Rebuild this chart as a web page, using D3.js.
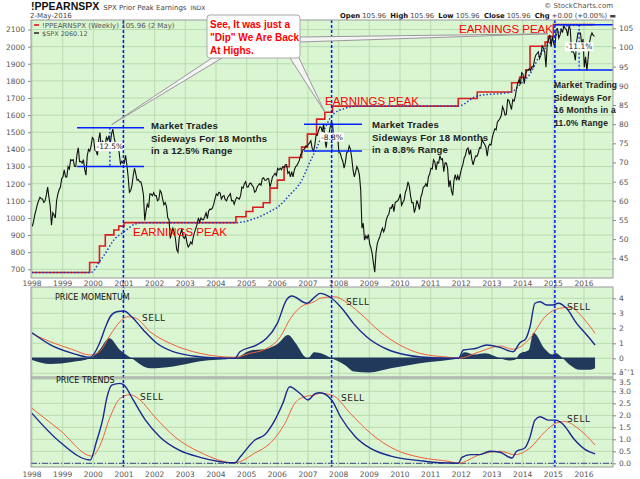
<html>
<head>
<script src="https://d3js.org/d3.v7.min.js"></script>
<style>
body { margin: 0; background: #fff; }
text { font-family: 'DejaVu Sans', sans-serif; }
.tick text { font-size: 7.5px; fill: #555; }
.tick line { stroke: #888; }
.note { font-family: 'Liberation Sans', Arial, sans-serif; font-weight: bold; font-size: 9.6px; fill: #222; letter-spacing: 0.2px; }
.peak { font-family: 'Liberation Sans', Arial, sans-serif; font-size: 11.5px; fill: #ff0000; }
.sell { font-size: 9px; fill: #222; letter-spacing: 0.5px; }
</style>
</head>
<body>
<div id="chart"></div>
<script>

var width = 640, height = 479;
var left = 31, right = 613;

// S&P 500, two readings per month from Jan 1998 to early May 2016
var spxValues = [
950,980, 1020,1049, 1080,1102, 1120,1112, 1110,1091, 1100,1134, 1180,1121, 1070,957, 1030,1017, 1000,1099, 1140,1164, 1180,1229,
1240,1280, 1240,1238, 1300,1286, 1340,1335, 1340,1302, 1300,1373, 1410,1329, 1330,1320, 1340,1283, 1250,1363, 1400,1389, 1420,1469,
1460,1394, 1390,1366, 1460,1499, 1400,1452, 1410,1421, 1470,1455, 1480,1431, 1490,1518, 1470,1437, 1400,1429, 1380,1315, 1330,1320,
1320,1366, 1310,1240, 1150,1160, 1190,1249, 1290,1256, 1220,1224, 1210,1211, 1180,1134, 985,1041, 1080,1060, 1140,1139, 1130,1148,
1130,1130, 1100,1107, 1160,1147, 1110,1077, 1090,1067, 1000,990, 880,912, 940,916, 880,815, 800,886, 910,936, 890,880,
900,856, 830,841, 860,848, 890,917, 940,964, 1000,975, 1000,990, 990,1008, 1030,996, 1040,1051, 1050,1058, 1080,1112,
1140,1131, 1150,1145, 1110,1126, 1130,1107, 1100,1121, 1130,1141, 1100,1102, 1080,1104, 1120,1115, 1110,1130, 1180,1174, 1200,1212,
1180,1181, 1200,1204, 1190,1181, 1150,1157, 1180,1192, 1200,1191, 1230,1234, 1220,1220, 1230,1229, 1180,1207, 1240,1249, 1260,1248,
1290,1280, 1290,1281, 1300,1295, 1310,1311, 1260,1270, 1240,1270, 1240,1277, 1300,1304, 1320,1336, 1370,1378, 1400,1401, 1420,1418,
1430,1438, 1450,1407, 1390,1421, 1480,1482, 1510,1531, 1530,1503, 1550,1455, 1410,1474, 1480,1527, 1560,1549, 1450,1481, 1480,1468,
1380,1379, 1350,1331, 1290,1323, 1380,1386, 1420,1400, 1350,1280, 1240,1267, 1300,1283, 1250,1165, 940,969, 870,896, 880,903,
850,826, 790,735, 683,798, 850,873, 890,919, 940,919, 940,987, 1010,1021, 1060,1057, 1080,1036, 1090,1096, 1100,1115,
1140,1074, 1090,1104, 1150,1169, 1210,1187, 1130,1089, 1090,1031, 1060,1102, 1080,1049, 1120,1141, 1180,1183, 1200,1181, 1240,1258,
1290,1286, 1340,1327, 1280,1326, 1320,1364, 1340,1345, 1270,1321, 1320,1292, 1180,1219, 1160,1131, 1220,1253, 1220,1247, 1220,1258,
1290,1312, 1350,1366, 1400,1408, 1370,1398, 1340,1310, 1340,1362, 1360,1379, 1410,1407, 1460,1441, 1430,1412, 1360,1416, 1430,1426,
1470,1498, 1520,1515, 1560,1569, 1580,1598, 1650,1631, 1600,1606, 1690,1686, 1660,1633, 1690,1682, 1710,1757, 1790,1806, 1780,1848,
1840,1783, 1840,1859, 1860,1872, 1860,1884, 1880,1924, 1950,1960, 1970,1931, 1950,2003, 1990,1972, 1880,2018, 2040,2068, 2000,2059,
2020,1995, 2100,2105, 2050,2068, 2100,2086, 2120,2107, 2100,2063, 2120,2104, 1970,1972, 1960,1920, 2030,2079, 2080,2080, 2010,2044,
1880,1940, 1860,1932, 2020,2060, 2080,2065, 2060
];

// prior peak earnings (right axis), step changes
var earnDates  = [1998.0, 1999.88, 2000.2, 2000.39, 2000.67, 2000.83, 2001.0, 2004.65, 2004.98, 2005.2, 2005.54, 2005.76, 2006.0, 2006.22, 2006.39, 2006.79, 2006.98, 2007.28, 2007.55, 2007.8, 2011.9, 2012.52, 2013.64, 2013.9, 2014.1, 2014.24, 2014.73, 2014.83, 2015.0, 2016.34];
var earnValues = [41.3, 43.9, 48.2, 51.1, 52.4, 53.4, 54.3, 55.85, 57.2, 58.3, 59.5, 63.3, 65.4, 68.9, 71.3, 74.0, 77.4, 81.3, 83.1, 84.7, 86.7, 88.4, 90.8, 92.2, 94.2, 100.3, 101.4, 102.9, 105.96, 105.96];

// smoothed earnings (dotted)
var earnAvg = [[1998.0,41.3],[1999.93,41.3],[2000.2,44.1],[2000.4,46.4],[2000.67,49.8],[2001.0,51.9],[2001.35,53.9],[2001.6,54.3],[2004.65,54.3],
  [2005.2,55.2],[2005.76,57.2],[2006.0,58.3],[2006.4,61.5],[2006.8,65.4],[2007.05,69.9],[2007.3,74.1],[2007.55,78.9],[2007.8,82.4],[2008.2,84.1],[2008.6,84.7],
  [2011.9,84.7],[2012.5,87.3],[2013.64,88.4],[2013.91,90.3],[2014.24,93.1],[2014.57,98.1],[2014.83,100.7],[2015.1,103.3],[2015.4,105.6],[2016.34,105.96]];

// PRICE MOMENTUM panel
var momBlue = [[1998.0,1.7],[1998.6,0.9],[1999.3,0.35],[1999.9,0.07],[2000.2,1.0],[2000.4,2.1],[2000.55,2.77],[2000.76,3.1],[2001.0,3.15],[2001.25,2.77],[2001.63,1.89],[2002.07,1.0],[2002.6,0.44],[2003.26,0.15],[2004.0,0.02],[2004.62,0.0],
  [2004.78,0.44],[2005.33,0.89],[2005.65,1.33],[2006.0,2.33],[2006.3,3.89],[2006.47,4.15],[2006.96,3.67],[2007.23,4.1],[2007.39,4.33],[2007.77,4.0],[2008.15,3.22],[2008.48,2.33],[2008.91,1.44],[2009.56,0.62],[2010.22,0.22],[2011.2,0.02],[2011.9,0.0],
  [2012.07,0.55],[2012.5,0.67],[2012.82,0.89],[2013.26,0.73],[2013.69,0.44],[2013.91,1.04],[2014.1,1.3],[2014.24,2.1],[2014.4,3.67],[2014.57,3.77],[2014.78,3.55],[2014.98,3.55],[2015.16,3.67],[2015.43,3.33],[2015.76,2.33],[2016.09,1.55],[2016.36,0.89]];
var momRed = [[1998.0,1.65],[1998.6,1.1],[1999.3,0.6],[1999.9,0.22],[2000.2,0.44],[2000.55,1.55],[2000.87,2.44],[2001.1,2.77],[2001.4,2.66],[2001.85,1.77],[2002.5,1.0],[2003.48,0.33],[2004.62,0.07],
  [2005.1,0.33],[2005.6,0.6],[2006.1,1.44],[2006.43,2.66],[2006.75,3.4],[2007.23,3.8],[2007.39,4.0],[2007.88,4.1],[2008.2,3.8],[2008.7,3.0],[2009.35,1.77],[2010.0,0.88],[2010.65,0.33],[2011.63,0.06],[2011.9,0.0],
  [2012.6,0.44],[2013.26,0.82],[2013.69,0.6],[2014.24,1.33],[2014.73,2.77],[2015.2,3.33],[2015.54,3.4],[2016.03,2.55],[2016.36,1.67]];
var momHist = [[1998.0,-0.11],[1998.6,-0.38],[1999.3,-0.25],[1999.9,0.0],[2000.2,0.55],[2000.52,1.33],[2000.87,0.55],[2001.25,0.0],[2001.85,-0.67],[2002.6,-0.55],[2003.48,-0.2],[2004.62,0.0],
  [2005.1,0.5],[2005.7,0.66],[2006.0,0.95],[2006.35,1.55],[2006.6,1.0],[2006.9,0.1],[2007.0,0.0],[2007.2,0.4],[2007.39,0.35],[2007.77,0.0],[2008.2,-0.44],[2008.5,-0.88],[2009.0,-0.95],[2009.7,-0.67],[2010.65,-0.33],[2011.63,-0.1],[2011.9,0.0],
  [2012.1,0.4],[2012.45,0.25],[2012.77,0.33],[2013.26,0.0],[2013.58,-0.15],[2013.75,-0.1],[2013.9,0.3],[2014.2,0.55],[2014.35,1.71],[2014.73,0.6],[2014.96,0.25],[2015.08,0.35],[2015.28,0.05],[2015.54,-0.44],[2015.87,-0.77],[2016.2,-0.77],[2016.36,-0.67]];

// PRICE TRENDS panel
var trendBlue = [[1998.0,2.08],[1998.9,0.9],[1999.9,0.14],[2000.1,0.9],[2000.3,1.8],[2000.45,2.78],[2000.6,3.26],[2000.87,3.33],[2001.0,3.26],[2001.3,2.64],[2001.7,1.8],[2002.17,1.1],[2002.8,0.55],[2003.48,0.25],[2004.62,0.02],
  [2004.78,0.25],[2005.27,0.97],[2005.6,1.2],[2005.92,1.8],[2006.18,2.5],[2006.4,3.19],[2006.75,2.9],[2007.0,2.64],[2007.23,2.9],[2007.39,2.94],[2007.77,2.64],[2008.06,1.94],[2008.55,1.1],[2009.04,0.62],[2009.7,0.3],[2010.65,0.11],[2011.3,0.02],[2011.9,0.0],
  [2012.02,0.25],[2012.3,0.36],[2012.6,0.36],[2012.93,0.5],[2013.26,0.46],[2013.65,0.22],[2013.8,0.5],[2014.07,0.64],[2014.24,1.1],[2014.4,1.8],[2014.57,1.94],[2014.83,1.8],[2015.08,1.8],[2015.28,1.67],[2015.7,0.97],[2016.03,0.58],[2016.36,0.39]];
var trendRed = [[1998.0,2.29],[1998.9,1.39],[1999.96,0.3],[2000.2,0.69],[2000.55,1.94],[2000.87,2.7],[2001.2,2.86],[2001.52,2.64],[2002.0,1.94],[2002.66,1.1],[2003.48,0.46],[2004.62,0.02],
  [2005.27,0.43],[2005.76,0.83],[2006.25,1.67],[2006.57,2.5],[2006.9,2.78],[2007.23,2.85],[2007.39,2.92],[2007.83,2.81],[2008.38,2.08],[2009.04,1.25],[2009.86,0.56],[2010.65,0.25],[2011.63,0.07],[2011.9,0.0],
  [2012.6,0.36],[2013.26,0.5],[2013.75,0.36],[2014.24,0.64],[2014.73,1.32],[2015.08,1.67],[2015.37,1.74],[2015.87,1.39],[2016.36,0.76]];

var years = d3.range(1998, 2017);
var priceTicks = d3.range(700, 2101, 100);
var earnTicks = d3.range(45, 106, 5);
var momTicks = [-1, 0, 1, 2, 3, 4];
var trendTicks = [0, 0.5, 1, 1.5, 2, 2.5, 3, 3.5];
var signalDates = [2000.98, 2007.77, 2015.05];

// sideways ranges: [from, to, high, low, drop marker date, label]
var ranges = [
  [1999.47, 2001.65, 1527, 1300, 2000.54, "-12.5%"],
  [2006.87, 2008.76, 1547, 1391, 2007.78, "-8.8%"],
  [2016.95, 2015.05, 2128, 1864, 2015.84, "-11.1%"]
];

var svg = d3.select("#chart").append("svg").attr("width", width).attr("height", height);

var x = d3.scaleLinear().domain([1998, 2016]).range([32, 584]);
var yPrice = d3.scaleLinear().domain([700, 2100]).range([269.3, 29.5]);
var yEarn = d3.scaleLinear().domain([45, 105]).range([258.3, 28.3]);
var yMom = d3.scaleLinear().domain([-1, 4]).range([373.3, 298.3]);
var yTrend = d3.scaleLinear().domain([0, 3.5]).range([463.3, 379.3]);

var bg = "#d9f5d2", grid = "#b9dbb0";

function panel(id, top, bottom, yScale, ticks) {
  var g = svg.append("g");
  svg.append("clipPath").attr("id", id).append("rect")
    .attr("x", left).attr("y", top).attr("width", right - left).attr("height", bottom - top);
  g.append("rect").attr("x", left).attr("y", top).attr("width", right - left).attr("height", bottom - top)
    .attr("fill", bg);
  g.selectAll("line.vg").data(years).enter().append("line")
    .attr("x1", function (d) { return x(d); }).attr("x2", function (d) { return x(d); })
    .attr("y1", top).attr("y2", bottom).attr("stroke", grid);
  g.selectAll("line.hg").data(ticks).enter().append("line")
    .attr("x1", left).attr("x2", right)
    .attr("y1", function (d) { return yScale(d); }).attr("y2", function (d) { return yScale(d); })
    .attr("stroke", grid);
  return svg.append("g").attr("clip-path", "url(#" + id + ")");
}

var main = panel("cMain", 20, 278, yPrice, priceTicks);
var mom = panel("cMom", 287, 377, yMom, momTicks);
var trend = panel("cTrend", 378, 467, yTrend, trendTicks);

// earnings step line and its smoothed line
var earnLine = d3.line().curve(d3.curveStepAfter)
  .x(function (d, i) { return x(earnDates[i]); }).y(function (d) { return yEarn(d); });
main.append("path").attr("d", earnLine(earnValues)).attr("fill", "none").attr("stroke", "#d81e1e").attr("stroke-width", 1.6);
main.append("path").attr("d", d3.line().curve(d3.curveMonotoneX)
  .x(function (d) { return x(d[0]); }).y(function (d) { return yEarn(d[1]); })(earnAvg))
  .attr("fill", "none").attr("stroke", "#1f3fc8").attr("stroke-width", 1.5).attr("stroke-dasharray", "1.5,2");

// S&P 500
var spxLine = d3.line()
  .x(function (d, i) { return x(1998.01 + i / 24); }).y(function (d) { return yPrice(d); });
main.append("path").attr("d", spxLine(spxValues)).attr("fill", "none").attr("stroke", "#111").attr("stroke-width", 1.1);

// range lines
ranges.forEach(function (r) {
  [r[2], r[3]].forEach(function (v) {
    main.append("line").attr("x1", x(r[0])).attr("x2", x(r[1])).attr("y1", yPrice(v)).attr("y2", yPrice(v))
      .attr("stroke", "#0022ff").attr("stroke-width", 1.5);
  });
  main.append("line").attr("x1", x(r[4])).attr("x2", x(r[4])).attr("y1", yPrice(r[2])).attr("y2", yPrice(r[3]))
    .attr("stroke", "#0022ff").attr("stroke-width", 1.2).attr("stroke-dasharray", "2,2");
  var ly = (yPrice(r[2]) + yPrice(r[3])) / 2;
  var t = main.append("text").attr("x", x(r[4])).attr("y", ly + 2).attr("text-anchor", "middle")
    .style("font-size", "7.5px").attr("fill", "#222").text(r[5]);
  var b = t.node().getBBox();
  main.insert("rect", function () { return t.node(); }).attr("x", b.x - 1).attr("y", b.y).attr("width", b.width + 2).attr("height", b.height)
    .attr("fill", "#fff");
});

// momentum panel
var area0 = d3.area().curve(d3.curveMonotoneX)
  .x(function (d) { return x(d[0]); }).y0(yMom(0)).y1(function (d) { return yMom(d[1]); });
mom.append("path").attr("d", area0(momHist)).attr("fill", "#213a5c");
mom.append("line").attr("x1", x(1998)).attr("x2", x(2016.36)).attr("y1", yMom(0)).attr("y2", yMom(0))
  .attr("stroke", "#213a5c").attr("stroke-width", 1.5);
var momLine = d3.line().curve(d3.curveMonotoneX)
  .x(function (d) { return x(d[0]); }).y(function (d) { return yMom(d[1]); });
mom.append("path").attr("d", momLine(momRed)).attr("fill", "none").attr("stroke", "#f2603c").attr("stroke-width", 1);
mom.append("path").attr("d", momLine(momBlue)).attr("fill", "none").attr("stroke", "#1a2a8e").attr("stroke-width", 1.4);

// trend panel
trend.append("line").attr("x1", left).attr("x2", right).attr("y1", yTrend(0)).attr("y2", yTrend(0))
  .attr("stroke", "#3a4a8a").attr("stroke-dasharray", "6,2,1,2");
var trLine = d3.line().curve(d3.curveMonotoneX)
  .x(function (d) { return x(d[0]); }).y(function (d) { return yTrend(d[1]); });
trend.append("path").attr("d", trLine(trendRed)).attr("fill", "none").attr("stroke", "#f2603c").attr("stroke-width", 1);
trend.append("path").attr("d", trLine(trendBlue)).attr("fill", "none").attr("stroke", "#1a2a8e").attr("stroke-width", 1.4);

// vertical signal lines
svg.selectAll("line.sig").data(signalDates).enter().append("line")
  .attr("x1", function (d) { return x(d); }).attr("x2", function (d) { return x(d); })
  .attr("y1", 20).attr("y2", 467).attr("stroke", "#0018ff").attr("stroke-width", 1.5).attr("stroke-dasharray", "3,2");

// panel borders
[[20, 278], [287, 377], [378, 467]].forEach(function (p) {
  svg.append("rect").attr("x", left).attr("y", p[0]).attr("width", right - left).attr("height", p[1] - p[0])
    .attr("fill", "none").attr("stroke", "#999");
});

// axes
function axis(a, tx) {
  var g = svg.append("g").attr("transform", "translate(" + tx + ",0)").call(a);
  g.select(".domain").remove();
  return g;
}
axis(d3.axisLeft(yPrice).tickValues(priceTicks).tickSize(3).tickFormat(d3.format("d")), left);
axis(d3.axisRight(yEarn).tickValues(earnTicks).tickSize(3).tickFormat(d3.format("d")), right);
axis(d3.axisRight(yMom).tickValues(momTicks).tickSize(3).tickFormat(d3.format("d")), right)
  .selectAll(".tick text").filter(function (d) { return d === -1; }).attr("dy", "0.15em");
axis(d3.axisRight(yTrend).tickValues(trendTicks).tickSize(3).tickFormat(d3.format(".1f")), right)
  .selectAll(".tick text").filter(function (d) { return d === 3.5; }).attr("dy", "0.75em");

[283, 474].forEach(function (yy) {
  svg.selectAll(null).data(years.slice(0, 19)).enter().append("text")
    .attr("x", function (d) { return x(d); }).attr("y", yy + 3).attr("text-anchor", "middle")
    .style("font-size", "7.5px").attr("fill", "#555").text(function (d) { return d; });
});

// header
var sym = svg.append("text").attr("x", 31).attr("y", 10).style("font-family", "Liberation Sans").style("font-weight", "bold")
  .style("font-size", "10.5px").attr("fill", "#111").text("!PPEARNSPX");
var hx = 31 + sym.node().getComputedTextLength() + 4;
var sub = svg.append("text").attr("x", hx).attr("y", 9.5).style("font-size", "7px").attr("fill", "#444")
  .text("SPX Prior Peak Earnings");
svg.append("text").attr("x", hx + sub.node().getComputedTextLength() + 4).attr("y", 9.5).style("font-size", "6px").attr("fill", "#444").text("INDX");
svg.append("text").attr("x", 30).attr("y", 18).style("font-size", "7px").attr("fill", "#444").text("2-May-2016");
svg.append("text").attr("x", 613).attr("y", 8).attr("text-anchor", "end").style("font-size", "7px").attr("fill", "#555")
  .text("\u00a9 StockCharts.com");
var ohlc = svg.append("text").attr("x", 340).attr("y", 18).style("font-size", "6.8px").attr("fill", "#444");
[["Open", " 105.96  "], ["High", " 105.96  "], ["Low", " 105.96  "], ["Close", " 105.96  "], ["Chg", " +0.00 (+0.00%) \u25ac"]].forEach(function (p) {
  ohlc.append("tspan").style("font-weight", "bold").attr("fill", "#111").text(p[0]);
  ohlc.append("tspan").style("white-space", "pre").text(p[1]);
});

// legend
svg.append("line").attr("x1", 34).attr("x2", 39).attr("y1", 25).attr("y2", 25).attr("stroke", "#e04040").attr("stroke-width", 2);
svg.append("text").attr("x", 42).attr("y", 27.5).style("font-size", "7px").attr("fill", "#555").text("!PPEARNSPX (Weekly) 105.96 (2 May)");
svg.append("line").attr("x1", 34).attr("x2", 39).attr("y1", 33).attr("y2", 33).attr("stroke", "#555").attr("stroke-width", 2);
svg.append("text").attr("x", 42).attr("y", 35.5).style("font-size", "6.5px").attr("fill", "#555").text("$SPX 2060.12");

// callout and pointers
var box = { x: 207, y: 15, w: 93, h: 43 };
var tips = [[2000.6, 1545, [212, 58], [222, 58]], [2007.55, 1618, [290, 58], [298, 56]], [2014.83, 2075, [300, 37], [300, 42]]];
tips.forEach(function (t) {
  var tip = [x(t[0]), yPrice(t[1])];
  svg.append("path").attr("d", "M" + t[2] + "L" + tip + "L" + t[3] + "Z")
    .attr("fill", "#f4f4f4").attr("stroke", "#999").attr("stroke-width", 1);
});
svg.append("rect").attr("x", box.x).attr("y", box.y).attr("width", box.w).attr("height", box.h).attr("rx", 3)
  .attr("fill", "#fff").attr("stroke", "#aaa");
["See, It was just a", "\"Dip\" We Are Back", "At Highs."].forEach(function (s, i) {
  svg.append("text").attr("x", 210).attr("y", 28 + i * 13).style("font-family", "Liberation Sans").style("font-weight", "bold")
    .style("font-size", "10px").attr("fill", "#ff0000").text(s);
});

// notes
function note(lines, px, py, fs) {
  lines.forEach(function (s, i) {
    svg.append("text").attr("class", "note").attr("x", px).attr("y", py + i * 12.7)
      .style("font-size", fs + "px").text(s);
  });
}
note(["Market Trades", "Sideways For 18 Months", "in a 12.5% Range"], 151, 129, 9.6);
note(["Market Trades", "Sideways For 18 Months", "in a 8.8% Range"], 372, 128, 9.6);
note(["Market Trading", "Sideways For", "16 Months in a", "11.0% Range"], 554, 88, 8.5);

svg.append("text").attr("class", "peak").attr("x", 133).attr("y", 236).text("EARNINGS PEAK");
svg.append("text").attr("class", "peak").attr("x", 325).attr("y", 105).text("EARNINGS PEAK");
svg.append("text").attr("class", "peak").attr("x", 459).attr("y", 33).text("EARNINGS PEAK");

// panel titles and sell marks
svg.append("text").attr("x", 55).attr("y", 300).style("font-size", "8px").attr("fill", "#111").text("PRICE MOMENTUM");
svg.append("text").attr("x", 56).attr("y", 383).style("font-size", "8px").attr("fill", "#111").text("PRICE TRENDS");
[[142, 321], [346, 305], [567, 310], [140, 400], [341, 401], [567, 422]].forEach(function (p) {
  svg.append("text").attr("class", "sell").attr("x", p[0]).attr("y", p[1]).text("SELL");
});

</script>
</body>
</html>
